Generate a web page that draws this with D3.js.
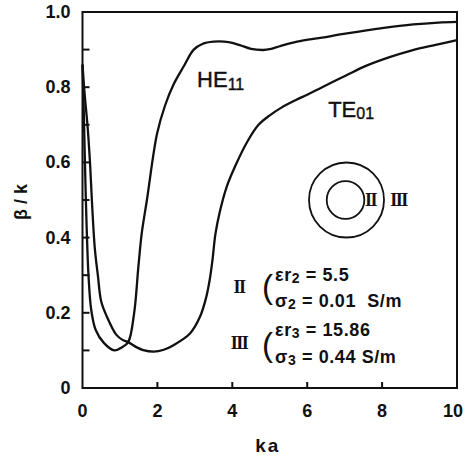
<!DOCTYPE html>
<html>
<head>
<meta charset="utf-8">
<script src="https://cdn.jsdelivr.net/npm/d3@7/dist/d3.min.js"></script>
<style>
  body { margin: 0; background: #fff; }
  text { fill: #111; white-space: pre; }
</style>
</head>
<body>
<div id="chart"></div>
<script>
// HE11 mode, beta/k against ka
let he11Ka   = [0, 0.03, 0.06, 0.09, 0.12, 0.16, 0.23, 0.35, 0.57, 0.85, 1.05, 1.22, 1.38, 1.49, 1.58, 1.72, 1.99, 2.2, 2.44, 2.7, 2.97, 3.2, 3.5, 3.9, 4.2, 4.5, 4.83, 5.0, 5.3, 5.73, 6.4, 7.06, 8.0, 8.83, 9.5, 10];
let he11Beta = [0.86, 0.75, 0.62, 0.5, 0.4, 0.3, 0.21, 0.155, 0.12, 0.1, 0.108, 0.122, 0.2, 0.32, 0.41, 0.5, 0.676, 0.75, 0.809, 0.855, 0.9, 0.915, 0.921, 0.92, 0.912, 0.902, 0.899, 0.901, 0.91, 0.921, 0.932, 0.943, 0.957, 0.967, 0.972, 0.974];

// TE01 mode
let te01Ka   = [0, 0.05, 0.14, 0.2, 0.25, 0.33, 0.41, 0.5, 0.65, 0.9, 1.07, 1.22, 1.45, 1.62, 1.9, 2.15, 2.43, 2.87, 3.14, 3.3, 3.4, 3.47, 3.55, 3.67, 3.85, 4.1, 4.4, 4.7, 5.0, 5.3, 5.7, 6.0, 6.4, 7.05, 7.6, 8.2, 8.8, 9.4, 10];
let te01Beta = [0.86, 0.79, 0.69, 0.6, 0.5, 0.37, 0.3, 0.23, 0.19, 0.142, 0.128, 0.122, 0.108, 0.101, 0.097, 0.101, 0.114, 0.145, 0.19, 0.24, 0.29, 0.34, 0.41, 0.47, 0.535, 0.595, 0.655, 0.7, 0.725, 0.745, 0.766, 0.78, 0.8, 0.832, 0.858, 0.88, 0.898, 0.912, 0.925];

let xTicks = [0, 2, 4, 6, 8, 10];
let yTicks = [0, 0.2, 0.4, 0.6, 0.8, 1.0];
let yMinorTicks = [0.1, 0.2, 0.3, 0.4, 0.5, 0.6, 0.7, 0.8, 0.9];
let xInnerTicks = [2, 4, 6, 8];

let SANS = "'Liberation Sans', Arial, sans-serif";
let SERIF = "'Liberation Serif', 'DejaVu Serif', serif";

let width = 466, height = 456;
let margin = { top: 12, right: 9, bottom: 68, left: 82.5 };

let svg = d3.select("#chart").append("svg")
  .attr("width", width)
  .attr("height", height)
  .style("background", "#fff")
  .style("font-family", SANS)
  .style("font-weight", "bold");

let x = d3.scaleLinear().domain([0, 10]).range([margin.left, width - margin.right]);
let y = d3.scaleLinear().domain([0, 1]).range([height - margin.bottom, margin.top]);

// frame
svg.append("rect")
  .attr("x", x(0)).attr("y", y(1))
  .attr("width", x(10) - x(0)).attr("height", y(0) - y(1))
  .attr("fill", "none").attr("stroke", "#111").attr("stroke-width", 2);

// inward ticks
svg.append("g").selectAll("line").data(yMinorTicks).enter().append("line")
  .attr("x1", x(0)).attr("x2", x(0) + 7)
  .attr("y1", d => y(d)).attr("y2", d => y(d))
  .attr("stroke", "#111").attr("stroke-width", 2);

svg.append("g").selectAll("line").data(xInnerTicks).enter().append("line")
  .attr("x1", d => x(d)).attr("x2", d => x(d))
  .attr("y1", y(0)).attr("y2", y(0) - 6)
  .attr("stroke", "#111").attr("stroke-width", 2);

// tick labels
svg.append("g").selectAll("text").data(yTicks).enter().append("text")
  .attr("x", x(0) - 12)
  .attr("y", d => y(d) + 6)
  .attr("text-anchor", "end")
  .attr("font-size", 18)
  .text(d => d === 0 ? "0" : d3.format(".1f")(d));

svg.append("g").selectAll("text").data(xTicks).enter().append("text")
  .attr("x", d => d === 10 ? x(d) - 4 : x(d))
  .attr("y", y(0) + 29)
  .attr("text-anchor", "middle")
  .attr("font-size", 18)
  .text(d => d);

// axis titles
svg.append("text")
  .attr("x", (x(0) + x(10)) / 2 - 2)
  .attr("y", 452)
  .attr("text-anchor", "middle")
  .attr("font-size", 19)
  .attr("letter-spacing", 2)
  .text("ka");

svg.append("text")
  .attr("transform", "translate(27," + 202 + ") rotate(-90)")
  .attr("text-anchor", "middle")
  .attr("font-size", 18)
  .text("β / k");

// curves
let line = d3.line()
  .x(d => x(d[0]))
  .y(d => y(d[1]))
  .curve(d3.curveCatmullRom.alpha(0.5));

svg.append("path")
  .datum(d3.zip(he11Ka, he11Beta))
  .attr("d", line)
  .attr("fill", "none").attr("stroke", "#111").attr("stroke-width", 2.3);

svg.append("path")
  .datum(d3.zip(te01Ka, te01Beta))
  .attr("d", line)
  .attr("fill", "none").attr("stroke", "#111").attr("stroke-width", 2.3);

// mode labels
let he = svg.append("text")
  .attr("x", x(3.06)).attr("y", y(0.80))
  .attr("font-size", 22).style("font-weight", "normal")
  .attr("stroke", "#111").attr("stroke-width", 0.4);
he.append("tspan").text("HE");
he.append("tspan").attr("font-size", 16).attr("dy", 3).text("11");

let te = svg.append("text")
  .attr("x", x(6.56)).attr("y", y(0.72))
  .attr("font-size", 22).style("font-weight", "normal")
  .attr("stroke", "#111").attr("stroke-width", 0.4);
te.append("tspan").text("TE");
te.append("tspan").attr("font-size", 16).attr("dy", 2).text("01");

// cross-section inset
let cx = x(7.05), cy = y(0.5);
svg.append("circle").attr("cx", cx).attr("cy", cy).attr("r", 37.5)
  .attr("fill", "none").attr("stroke", "#111").attr("stroke-width", 1.8);
svg.append("circle").attr("cx", cx - 1).attr("cy", cy).attr("r", 18.8)
  .attr("fill", "none").attr("stroke", "#111").attr("stroke-width", 1.8);

function roman(px, py, s) {
  svg.append("text")
    .attr("x", px).attr("y", py)
    .attr("text-anchor", "middle")
    .style("font-family", SERIF)
    .attr("font-size", 18)
    .attr("letter-spacing", -1.5)
    .text(s);
}
roman(cx + 24, cy + 6, "II");
roman(cx + 52, cy + 6, "III");

// material parameters
roman(239, 293, "II");
roman(239, 349, "III");

function paren(py) {
  svg.append("text")
    .attr("x", 262).attr("y", py)
    .attr("font-size", 33).style("font-weight", "normal")
    .text("(");
}
paren(298);
paren(356);

function param(py, sym, sub, val) {
  let t = svg.append("text").attr("x", 275).attr("y", py)
    .attr("font-size", 18).attr("letter-spacing", 0.6);
  t.append("tspan").text(sym);
  t.append("tspan").attr("font-size", 14).attr("dy", 2).text(sub);
  t.append("tspan").attr("dy", -2).text(val);
}
param(281, "εr", "2", " = 5.5");
param(307, "σ", "2", " = 0.01  S/m");
param(336, "εr", "3", " = 15.86");
param(363, "σ", "3", " = 0.44 S/m");
</script>
</body>
</html>
